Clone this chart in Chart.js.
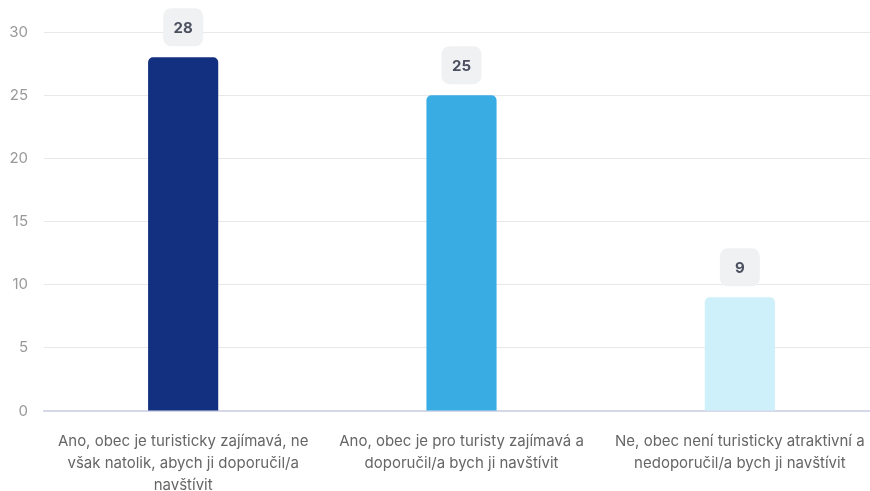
<!DOCTYPE html>
<html>
<head>
<meta charset="utf-8">
<script src="https://cdn.jsdelivr.net/npm/chart.js@4"></script>
<style>
  html, body { margin: 0; padding: 0; background: #fff; overflow: hidden; }
  #wrap { width: 879px; height: 491px; }
</style>
</head>
<body>
<div id="wrap"><canvas id="answersChart"></canvas></div>
<script>
const categories = [
    ['Ano, obec je turisticky zajímavá, ne', 'však natolik, abych ji doporučil/a', 'navštívit'],
    ['Ano, obec je pro turisty zajímavá a', 'doporučil/a bych ji navštívit'],
    ['Ne, obec není turisticky atraktivní a', 'nedoporučil/a bych ji navštívit']
];
const answerCounts = [28, 25, 9];
const barColors = ['#12307f', '#3aace4', '#cdf0fa'];

// draws the grey rounded badge with the value above each bar
const valueBadges = {
    id: 'valueBadges',
    afterDatasetsDraw(chart) {
        const ctx = chart.ctx;
        const meta = chart.getDatasetMeta(0);
        ctx.save();
        ctx.font = 'bold 15px Inter';
        ctx.textAlign = 'center';
        ctx.textBaseline = 'middle';
        meta.data.forEach((bar, i) => {
            const w = 40, h = 38;
            const cx = bar.x, cy = bar.y - 30;
            ctx.fillStyle = '#f0f1f2';
            ctx.beginPath();
            ctx.roundRect(cx - w / 2, cy - h / 2, w, h, 8);
            ctx.fill();
            ctx.fillStyle = '#4b5060';
            ctx.fillText(answerCounts[i], cx, cy + 1);
        });
        ctx.restore();
    }
};

const ctx = document.getElementById('answersChart').getContext('2d');
new Chart(ctx, {
    type: 'bar',
    data: {
        labels: categories,
        datasets: [{
            data: answerCounts,
            backgroundColor: barColors,
            borderRadius: { topLeft: 5, topRight: 5 },
            borderSkipped: 'bottom',
            barPercentage: 0.315,
            categoryPercentage: 0.8
        }]
    },
    options: {
        responsive: true,
        maintainAspectRatio: false,
        animation: false,
        layout: { padding: { top: 32, left: 0, right: 0, bottom: 0 } },
        plugins: {
            legend: { display: false },
            tooltip: { enabled: false }
        },
        scales: {
            x: {
                grid: { display: false },
                border: { color: '#d4d8e8', width: 2 },
                afterFit(scale) { scale.height = 80; },
                ticks: {
                    color: '#666',
                    font: { family: 'Inter', size: 15, lineHeight: 1.47 },
                    padding: 11,
                    maxRotation: 0
                }
            },
            y: {
                min: 0,
                max: 30,
                grid: { color: '#e8e8e8', drawTicks: false },
                border: { display: false },
                afterFit(scale) { scale.width = 44; },
                ticks: {
                    stepSize: 5,
                    color: '#999',
                    font: { family: 'Inter', size: 15 },
                    padding: 16
                }
            }
        }
    },
    plugins: [valueBadges]
});
</script>
</body>
</html>
